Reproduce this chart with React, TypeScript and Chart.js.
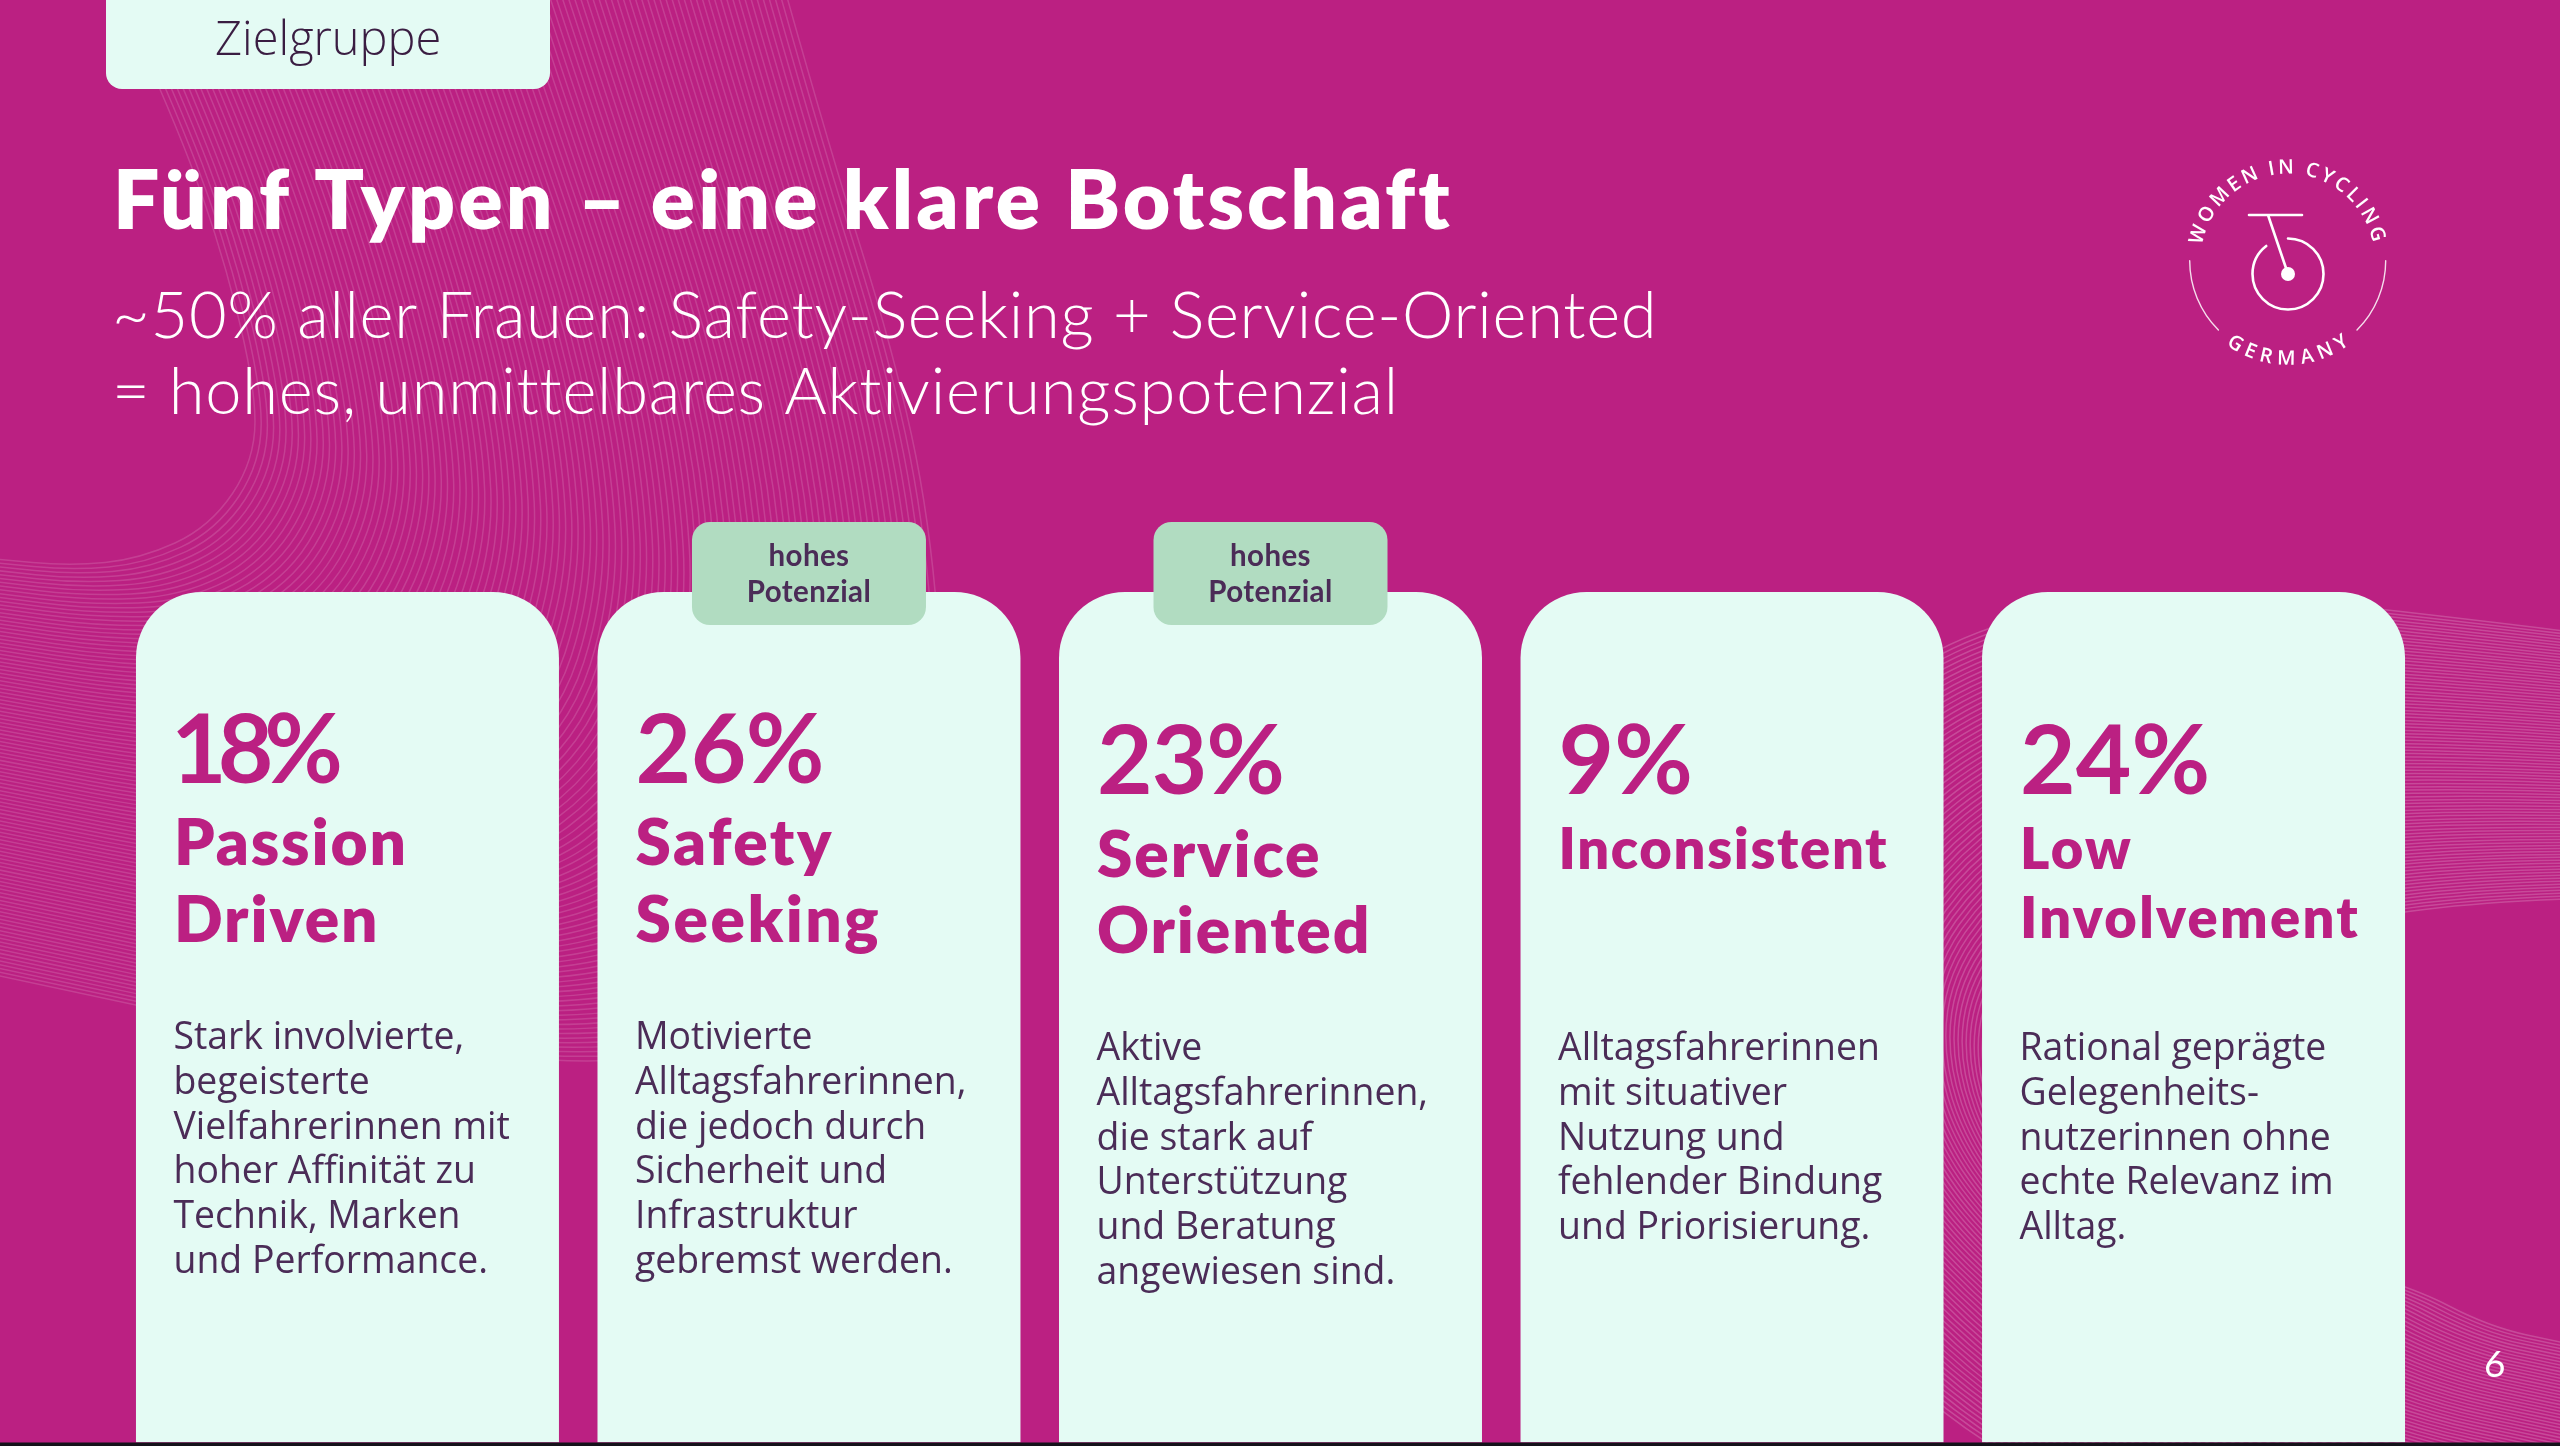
import { useEffect, useRef } from 'react';
import { Chart, registerables } from 'chart.js';

Chart.register(...registerables);

// slide content
const tabLabel = 'Zielgruppe';
const title = 'Fünf Typen – eine klare Botschaft';
const subtitleLines = [
  '~50% aller Frauen: Safety-Seeking + Service-Oriented',
  '= hohes, unmittelbares Aktivierungspotenzial',
];
const pageNumber = '6';

const categories = ['Passion Driven', 'Safety Seeking', 'Service Oriented', 'Inconsistent', 'Low Involvement'];
const shares = [18, 26, 23, 9, 24];
const cardSpan = [1, 1, 1, 1, 1];
const highPotential = [false, true, true, false, false];
const badgeLines = ['hohes', 'Potenzial'];
const nameLines = [
  ['Passion', 'Driven'],
  ['Safety', 'Seeking'],
  ['Service', 'Oriented'],
  ['Inconsistent'],
  ['Low', 'Involvement'],
];
const bodyLines = [
  ['Stark involvierte,', 'begeisterte', 'Vielfahrerinnen mit', 'hoher Affinität zu', 'Technik, Marken', 'und Performance.'],
  ['Motivierte', 'Alltagsfahrerinnen,', 'die jedoch durch', 'Sicherheit und', 'Infrastruktur', 'gebremst werden.'],
  ['Aktive', 'Alltagsfahrerinnen,', 'die stark auf', 'Unterstützung', 'und Beratung', 'angewiesen sind.'],
  ['Alltagsfahrerinnen', 'mit situativer', 'Nutzung und', 'fehlender Bindung', 'und Priorisierung.'],
  ['Rational geprägte', 'Gelegenheits-', 'nutzerinnen ohne', 'echte Relevanz im', 'Alltag.'],
];

// baselines per card, the slide does not keep them aligned
const shareY = [783, 783, 794, 794, 794];
const shareTrack = [-9, -0.5, -1, 0, 0];
const nameY = [865, 865, 877, 869, 869];
const nameStep = [77, 77, 76, 0, 69];
const nameSize = [64, 64, 64, 56, 56];
const nameTrack = [1.9, 2.5, 1.9, 1.7, 2.3];
const bodyY = [1049, 1049, 1060, 1060, 1060];

const MAGENTA = '#bb2082';
const MINT = '#e4fbf4';
const GREEN = '#b1dcc1';
const PLUM = '#4b2c57';

type Pt = [number, number];

const leftRibbonInner: Pt[] = [[115, -10], [163, 92], [217, 233], [255, 383], [255, 460], [210, 527], [140, 559], [70, 566], [-5, 559]];
const leftRibbonOuter: Pt[] = [[785, -10], [830, 150], [893, 350], [930, 520], [945, 720], [900, 930], [720, 1075], [300, 1040], [-5, 975]];
const rightRibbonOuter: Pt[] = [[2565, 631], [2385, 609], [2150, 585], [1900, 650], [1720, 850], [1720, 1150], [1900, 1400], [2200, 1560], [2565, 1640]];
const rightRibbonInner: Pt[] = [[2565, 899], [2406, 905], [2250, 950], [2110, 1040], [2080, 1130], [2180, 1220], [2405, 1283], [2489, 1327], [2565, 1343]];

function put(ctx: CanvasRenderingContext2D, text: string, x: number, y: number, font: string, color: string, spacing = 0, align: CanvasTextAlign = 'left') {
  ctx.font = font;
  ctx.fillStyle = color;
  ctx.textAlign = align;
  ctx.textBaseline = 'alphabetic';
  (ctx as any).letterSpacing = spacing + 'px';
  ctx.fillText(text, x, y);
  (ctx as any).letterSpacing = '0px';
}

function drawRibbon(ctx: CanvasRenderingContext2D, a: Pt[], b: Pt[], count: number, alpha: number) {
  ctx.save();
  ctx.strokeStyle = `rgba(255,255,255,${alpha})`;
  ctx.lineWidth = 1.5;
  for (let i = 0; i <= count; i++) {
    const t = i / count;
    const pts = a.map((p, k) => [p[0] + (b[k][0] - p[0]) * t, p[1] + (b[k][1] - p[1]) * t]);
    ctx.beginPath();
    ctx.moveTo(pts[0][0], pts[0][1]);
    for (let k = 1; k < pts.length - 1; k++) {
      const mx = (pts[k][0] + pts[k + 1][0]) / 2;
      const my = (pts[k][1] + pts[k + 1][1]) / 2;
      ctx.quadraticCurveTo(pts[k][0], pts[k][1], mx, my);
    }
    ctx.lineTo(pts[pts.length - 1][0], pts[pts.length - 1][1]);
    ctx.stroke();
  }
  ctx.restore();
}

function arcText(ctx: CanvasRenderingContext2D, text: string, cx: number, cy: number, r: number, from: number, to: number, bottom: boolean) {
  ctx.font = '600 20px "Open Sans"';
  ctx.fillStyle = '#ffffff';
  ctx.textAlign = 'center';
  ctx.textBaseline = 'alphabetic';
  const chars = text.split('');
  const widths = chars.map(c => ctx.measureText(c).width + 2);
  const total = widths.reduce((s, w) => s + w, 0);
  let run = 0;
  chars.forEach((c, i) => {
    const deg = from + ((run + widths[i] / 2) / total) * (to - from);
    const th = (deg * Math.PI) / 180;
    ctx.save();
    if (bottom) {
      ctx.translate(cx + r * Math.sin(th), cy + r * Math.cos(th));
      ctx.rotate(-th);
    } else {
      ctx.translate(cx + r * Math.sin(th), cy - r * Math.cos(th));
      ctx.rotate(th);
    }
    ctx.fillText(c, 0, 0);
    ctx.restore();
    run += widths[i];
  });
}

function drawLogo(ctx: CanvasRenderingContext2D) {
  const cx = 2287.7;
  const cy = 260.7;
  ctx.save();
  ctx.lineCap = 'round';
  // outer ring, two thin arcs at the sides
  ctx.lineWidth = 1.4;
  ctx.strokeStyle = 'rgba(255,255,255,0.85)';
  ctx.beginPath();
  ctx.arc(cx, cy, 98, 0, Math.PI * 0.25);
  ctx.stroke();
  ctx.beginPath();
  ctx.arc(cx, cy, 98, Math.PI * 0.75, Math.PI);
  ctx.stroke();
  // wheel, bar and stem
  ctx.strokeStyle = '#ffffff';
  ctx.lineWidth = 2.6;
  const hubY = 274;
  ctx.beginPath();
  ctx.arc(2288, hubY, 35.5, -Math.PI / 2, Math.PI * 1.29);
  ctx.stroke();
  ctx.beginPath();
  ctx.moveTo(2249, 215);
  ctx.lineTo(2302, 215);
  ctx.moveTo(2268, 215);
  ctx.lineTo(2288, 274);
  ctx.stroke();
  ctx.fillStyle = '#ffffff';
  ctx.beginPath();
  ctx.arc(2288, hubY, 7, 0, Math.PI * 2);
  ctx.fill();
  ctx.restore();
  arcText(ctx, 'WOMEN IN CYCLING', cx, cy, 87, -81, 79, false);
  arcText(ctx, 'GERMANY', cx, cy, 104, -38, 38, true);
}

const slidePlugin = {
  id: 'slide',
  beforeDatasetsDraw(chart: Chart) {
    const ctx = chart.ctx;
    ctx.save();
    ctx.fillStyle = MAGENTA;
    ctx.fillRect(0, 0, chart.width, chart.height);
    drawRibbon(ctx, leftRibbonInner, leftRibbonOuter, 110, 0.14);
    drawRibbon(ctx, rightRibbonOuter, rightRibbonInner, 90, 0.19);

    // tab on the top edge
    ctx.fillStyle = MINT;
    ctx.beginPath();
    ctx.roundRect(106, -30, 444, 119, 16);
    ctx.fill();
    put(ctx, tabLabel, 215, 55, '300 47px "Open Sans"', '#3a1d42');

    put(ctx, title, 113, 229, '800 82px Lato', '#ffffff', 3.2);
    subtitleLines.forEach((line, i) => put(ctx, line, 112, 338 + i * 76, '300 65px Lato', '#ffffff', 0.75));
    drawLogo(ctx);
    ctx.restore();
  },
  afterDatasetsDraw(chart: Chart) {
    const ctx = chart.ctx;
    const x = chart.scales.x;
    ctx.save();
    categories.forEach((_, i) => {
      const center = x.getPixelForValue(i);
      const left = center - 211.5 + 38;
      if (highPotential[i]) {
        ctx.fillStyle = GREEN;
        ctx.beginPath();
        ctx.roundRect(center - 117, 522, 234, 103, 18);
        ctx.fill();
        badgeLines.forEach((line, k) => put(ctx, line, center, 566 + k * 36, '700 29.5px Lato', PLUM, 0.4, 'center'));
      }
      put(ctx, shares[i] + '%', left - (i === 0 ? 3 : 0), shareY[i], '700 96px Lato', MAGENTA, shareTrack[i]);
      nameLines[i].forEach((line, k) => put(ctx, line, left, nameY[i] + k * nameStep[i], `800 ${nameSize[i]}px Lato`, MAGENTA, nameTrack[i]));
      bodyLines[i].forEach((line, k) => put(ctx, line, left - 0.5, bodyY[i] + k * 44.8, '400 37.4px "Open Sans"', PLUM));
    });
    put(ctx, pageNumber, 2484, 1377, '400 37px Lato', '#ffffff');
    // dark strip under the slide
    ctx.fillStyle = '#14121a';
    ctx.fillRect(0, 1442.5, chart.width, 4);
    ctx.restore();
  },
};

export default function App() {
  const chartRef = useRef<HTMLCanvasElement>(null);

  useEffect(() => {
    if (!chartRef.current) return;
    const chart = new Chart(chartRef.current, {
      type: 'bar',
      data: {
        labels: categories,
        datasets: [
          {
            label: 'Karten',
            data: cardSpan,
            backgroundColor: MINT,
            borderWidth: 0,
            borderRadius: { topLeft: 66, topRight: 66, bottomLeft: 0, bottomRight: 0 },
            borderSkipped: false,
            barPercentage: 0.9165,
            categoryPercentage: 1,
          },
        ],
      },
      options: {
        responsive: false,
        animation: false,
        devicePixelRatio: 1,
        layout: { padding: { left: 116.7, right: 135.7, top: 592, bottom: 3.5 } },
        plugins: { legend: { display: false }, tooltip: { enabled: false } },
        scales: {
          x: { display: false },
          y: { display: false, min: 0, max: 1 },
        },
      },
      plugins: [slidePlugin],
    });

    return () => chart.destroy();
  }, []);

  return (
    <div style={{ position: 'fixed', inset: 0, overflow: 'hidden', background: MAGENTA }}>
      <canvas ref={chartRef} width={2560} height={1446} style={{ display: 'block' }} />
    </div>
  );
}
